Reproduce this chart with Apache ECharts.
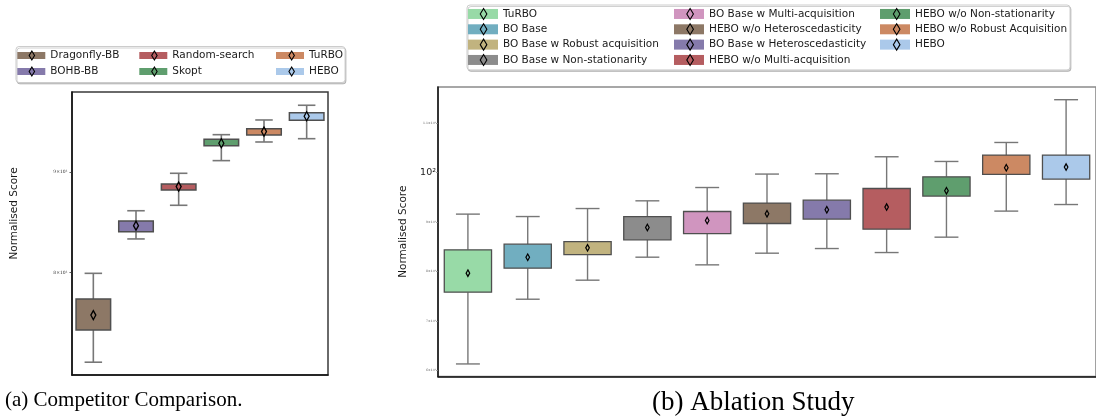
<!DOCTYPE html>
<html><head><meta charset="utf-8">
<script src="https://cdn.jsdelivr.net/npm/echarts@6/dist/echarts.min.js"></script>
<style>html,body{margin:0;padding:0;background:#fff}#c{width:1096px;height:417px}</style>
</head><body><div id="c"></div>
<script>
// ---------- (a) Competitor Comparison ----------
const compCategories = ['Dragonfly-BB', 'BOHB-BB', 'Random-search', 'Skopt', 'TuRBO', 'HEBO'];
const compMin  = [72.05, 83.22, 86.56, 91.20, 93.21, 93.57];
const compQ1   = [74.81, 83.93, 88.13, 92.81, 93.98, 95.62];
const compQ3   = [77.57, 84.99, 88.75, 93.51, 94.67, 96.46];
const compMax  = [79.94, 86.01, 89.86, 94.01, 95.64, 97.30];
const compMean = [76.13, 84.52, 88.47, 93.07, 94.35, 96.06];
const compTickValues = [80, 90];
const compTickLabels = ['8×10¹', '9×10¹'];

// ---------- (b) Ablation Study ----------
const ablCategories = ['TuRBO', 'BO Base', 'BO Base w Robust acquisition', 'BO Base w Non-stationarity',
  'BO Base w Multi-acquisition', 'HEBO w/o Heteroscedasticity', 'BO Base w Heteroscedasticity',
  'HEBO w/o Multi-acquisition', 'HEBO w/o Non-stationarity', 'HEBO w/o Robust Acquisition', 'HEBO'];
const ablMin  = [61.28, 74.37, 78.22, 82.87, 81.32, 83.68, 84.62, 83.81, 86.92, 92.19, 93.52];
const ablQ1   = [75.79, 80.65, 83.40, 86.38, 87.65, 89.68, 90.57, 88.54, 95.22, 99.60, 98.66];
const ablQ3   = [84.35, 85.51, 86.03, 91.09, 92.11, 93.81, 94.41, 96.76, 99.13, 103.52, 103.52];
const ablMax  = [91.58, 91.09, 92.71, 94.27, 96.96, 99.68, 99.74, 103.18, 102.23, 106.07, 114.72];
const ablMean = [79.64, 82.87, 84.76, 88.87, 90.28, 91.64, 92.45, 93.00, 96.30, 100.95, 101.09];
const ablTickValues = [60, 70, 80, 90, 100, 110];
const ablTickLabels = ['6×10¹', '7×10¹', '8×10¹', '9×10¹', '10²', '1.1×10²'];

// ---------- styles ----------
const compColors = ['#8d7866', '#857aab', '#b55d60', '#5f9e6e', '#cc8963', '#abc9ea'];
const ablColors = ['#98daa7', '#71aec0', '#c1b37f', '#8c8c8c', '#d095bf', '#8d7866', '#857aab',
  '#b55d60', '#5f9e6e', '#cc8963', '#abc9ea'];
// diamond icons padded with move-to corners so the icon box spans the full swatch size
const DIAMOND_A = 'path://M0,0 M28,9 M14,0 L16.7,4.5 L14,9 L11.3,4.5 Z';
const DIAMOND_B = 'path://M0,0 M30,11 M15,0 L18.3,5.5 L15,11 L11.7,5.5 Z';

function boxRenderer(color, boxFrac, capFrac, dW, dH, st) {
  return function (params, api) {
    const c = api.value(0);
    const pMin = api.coord([c, api.value(1)]);
    const pQ1 = api.coord([c, api.value(2)]);
    const pQ3 = api.coord([c, api.value(3)]);
    const pMax = api.coord([c, api.value(4)]);
    const pMean = api.coord([c, api.value(5)]);
    const band = api.size([1, 0], [c, api.value(2)])[0];
    const x = pQ1[0], bw = band * boxFrac, cw = band * capFrac;
    const ws = {stroke: st.whisker, lineWidth: st.wl};
    const my = pMean[1];
    return {type: 'group', children: [
      {type: 'line', shape: {x1: x, y1: pMax[1], x2: x, y2: pQ3[1]}, style: ws},
      {type: 'line', shape: {x1: x, y1: pQ1[1], x2: x, y2: pMin[1]}, style: ws},
      {type: 'line', shape: {x1: x - cw / 2, y1: pMax[1], x2: x + cw / 2, y2: pMax[1]}, style: ws},
      {type: 'line', shape: {x1: x - cw / 2, y1: pMin[1], x2: x + cw / 2, y2: pMin[1]}, style: ws},
      {type: 'rect', shape: {x: x - bw / 2, y: pQ3[1], width: bw, height: pQ1[1] - pQ3[1]},
        style: {fill: color, stroke: st.edge, lineWidth: st.el}},
      {type: 'polygon', shape: {points: [[x, my - dH / 2], [x + dW / 2, my], [x, my + dH / 2], [x - dW / 2, my]]},
        style: {fill: color, stroke: '#000', lineWidth: st.dl}}
    ]};
  };
}

function legendItems(names, colors, widths, diamond, dIcon) {
  return names.map((n, i) => {
    const it = {name: n, icon: diamond ? dIcon : 'rect'};
    it.itemStyle = diamond ? {color: 'rgba(0,0,0,0)', borderColor: '#000', borderWidth: 1.1}
                           : {color: colors[i], borderWidth: 0, borderColor: 'rgba(0,0,0,0)'};
    if (widths[i]) it.textStyle = {width: widths[i]};
    return it;
  });
}

const compWidths = [89, 89, 103.7, 103.7, 0, 0];
const ablWidths = [171, 171, 171, 171, 171, 171, 171, 171, 0, 0, 0];

function legendBase(diamond, opts) {
  return Object.assign({
    orient: 'vertical', itemGap: 0, selectedMode: false, symbolKeepAspect: true,
    backgroundColor: diamond ? 'transparent' : '#fff',
    borderColor: diamond ? 'transparent' : '#cccccc', borderWidth: diamond ? 0 : 1, borderRadius: 3,
    shadowColor: diamond ? 'transparent' : 'rgba(0,0,0,0.18)', shadowOffsetY: diamond ? 0 : 1.5, shadowOffsetX: diamond ? 0 : 1, shadowBlur: 0,
    z: diamond ? 6 : 4,
    textStyle: {fontFamily: 'DejaVu Sans', fontSize: 10.5, color: diamond ? 'rgba(0,0,0,0)' : '#1a1a1a',
      backgroundColor: 'rgba(0,0,0,0)'}
  }, opts);
}

const compLegendCommon = {left: 16, top: 46.5, height: 38, padding: [1, 2, 3, 1.3], itemWidth: 28};
const ablLegendCommon = {left: 467, top: 5, height: 68, padding: [1.3, 3, 2.3, 1], itemWidth: 30};

const leftStyle = {whisker: '#777', wl: 1.6, edge: '#4f4f4f', el: 1.5, dl: 1.3};
const rightStyle = {whisker: '#777', wl: 1.4, edge: '#4f4f4f', el: 1.3, dl: 1.2};

const series = [];
compCategories.forEach((name, i) => {
  series.push({type: 'custom', name, xAxisIndex: 0, yAxisIndex: 0, silent: true,
    renderItem: boxRenderer(compColors[i], 0.81, 0.41, 5, 9, leftStyle),
    encode: {x: 0, y: [1, 2, 3, 4, 5]}, itemStyle: {color: compColors[i]},
    data: [[i, compMin[i], compQ1[i], compQ3[i], compMax[i], compMean[i]]]});
});
ablCategories.forEach((name, i) => {
  series.push({type: 'custom', name, xAxisIndex: 1, yAxisIndex: 1, silent: true,
    renderItem: boxRenderer(ablColors[i], 0.79, 0.40, 3.6, 6.5, rightStyle),
    encode: {x: 0, y: [1, 2, 3, 4, 5]}, itemStyle: {color: ablColors[i]},
    data: [[i, ablMin[i], ablQ1[i], ablQ3[i], ablMax[i], ablMean[i]]]});
});

const chart = echarts.init(document.getElementById('c'), null, {renderer: 'canvas'});
chart.setOption({
  animation: false,
  backgroundColor: '#fff',
  title: [
    {text: '(a) Competitor Comparison.', left: 5, top: 390, padding: 0,
      textStyle: {fontFamily: 'Liberation Serif', fontSize: 21, fontWeight: 'normal', color: '#000'}},
    {text: '(b) Ablation Study', left: 652, top: 389, padding: 0,
      textStyle: {fontFamily: 'Liberation Serif', fontSize: 27, fontWeight: 'normal', color: '#000'}}
  ],
  legend: [
    legendBase(false, Object.assign({data: legendItems(compCategories, compColors, compWidths, false), itemHeight: 7}, compLegendCommon)),
    legendBase(true, Object.assign({data: legendItems(compCategories, compColors, compWidths, true, DIAMOND_A), itemHeight: 9}, compLegendCommon)),
    legendBase(false, Object.assign({data: legendItems(ablCategories, ablColors, ablWidths, false), itemHeight: 10}, ablLegendCommon)),
    legendBase(true, Object.assign({data: legendItems(ablCategories, ablColors, ablWidths, true, DIAMOND_B), itemHeight: 11}, ablLegendCommon))
  ].map((l, k) => { l.textStyle.lineHeight = k < 2 ? 16 : 15.33; return l; }),
  grid: [
    {left: 72, top: 92, width: 256, height: 283, show: true, borderColor: '#3a3a3a', borderWidth: 1.5},
    {left: 438, top: 87, width: 662, height: 289.5, show: true, borderColor: '#8a8a8a', borderWidth: 1.6}
  ],
  xAxis: [
    {type: 'category', gridIndex: 0, data: compCategories, boundaryGap: true,
      axisLine: {lineStyle: {color: '#111', width: 1.5}}, axisTick: {show: false}, axisLabel: {show: false}},
    {type: 'category', gridIndex: 1, data: ablCategories, boundaryGap: true,
      axisLine: {lineStyle: {color: '#111', width: 1.5}}, axisTick: {show: false}, axisLabel: {show: false}}
  ],
  yAxis: [
    {type: 'log', gridIndex: 0, min: 70.98, max: 98.82,
      name: 'Normalised Score', nameLocation: 'middle', nameGap: 52,
      nameTextStyle: {fontFamily: 'DejaVu Sans', fontSize: 10.5, color: '#1a1a1a', padding: [0, 0, 0, 40]},
      axisLine: {show: true, lineStyle: {color: '#111', width: 1.5}},
      splitLine: {show: false}, minorTick: {show: false},
      axisTick: {show: true, length: 2.5, customValues: compTickValues, lineStyle: {color: '#333', width: 0.8}},
      axisLabel: {show: true, customValues: compTickValues, margin: 4.5, fontSize: 4.5, color: '#333',
        fontFamily: 'DejaVu Serif',
        formatter: v => compTickLabels[compTickValues.indexOf(Math.round(v))] || ''}},
    {type: 'value', gridIndex: 1, min: 58.74, max: 117.29,
      name: 'Normalised Score', nameLocation: 'middle', nameGap: 16,
      nameTextStyle: {fontFamily: 'DejaVu Sans', fontSize: 10.5, color: '#1a1a1a'},
      axisLine: {show: true, lineStyle: {color: '#111', width: 1.5}},
      splitLine: {show: false},
      axisTick: {show: true, length: 2, customValues: ablTickValues, lineStyle: {color: '#888', width: 0.8}},
      axisLabel: {show: true, customValues: ablTickValues, margin: 2, color: '#333',
        formatter: v => {
          const k = ablTickValues.indexOf(Math.round(v));
          if (k < 0) return '';
          return (ablTickValues[k] === 100 ? '{b|' : '{s|') + ablTickLabels[k] + '}';
        },
        rich: {b: {fontSize: 9.5, fontFamily: 'DejaVu Sans', color: '#1a1a1a'},
               s: {fontSize: 3.2, fontFamily: 'DejaVu Serif', color: '#555'}}}}
  ],
  series
});
</script></body></html>
